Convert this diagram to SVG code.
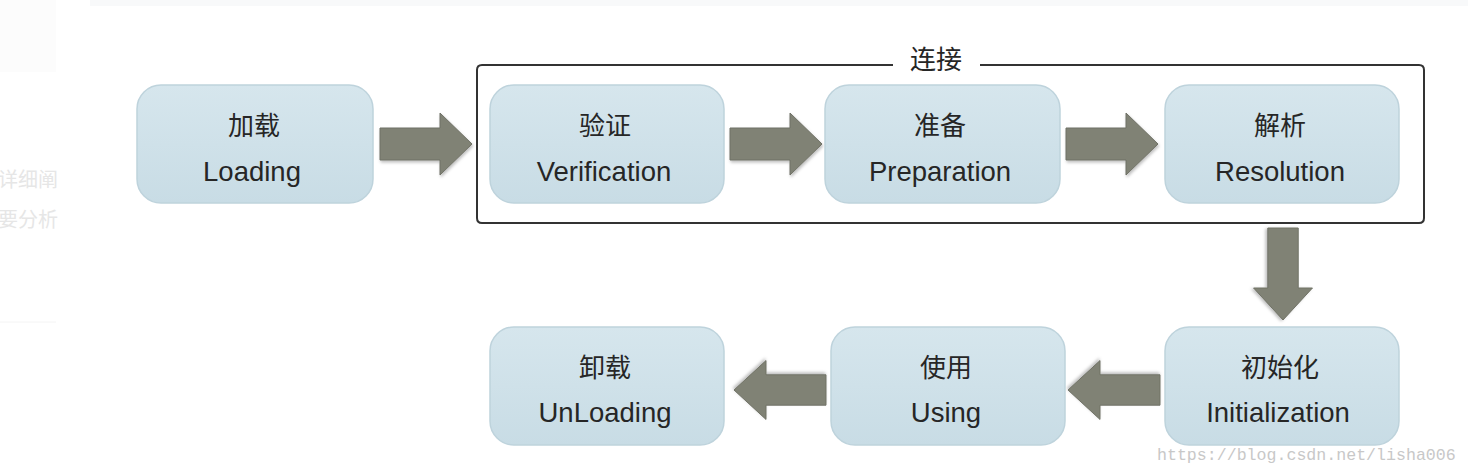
<svg xmlns="http://www.w3.org/2000/svg" width="1468" height="474" viewBox="0 0 1468 474">
<defs>
<linearGradient id="ng" x1="0" y1="0" x2="0" y2="1">
<stop offset="0" stop-color="#d6e6ed"/>
<stop offset="1" stop-color="#c8dce5"/>
</linearGradient>
<filter id="sh" x="-10%" y="-10%" width="130%" height="130%">
<feDropShadow dx="1" dy="2" stdDeviation="1.5" flood-color="#000" flood-opacity="0.25"/>
</filter>
<path id="ar" d="M0,-16 L60,-16 L60,-31 L92,0 L60,31 L60,16 L0,16 Z"/>
</defs>
<style>
.node rect{fill:url(#ng);stroke:#bed3dc;stroke-width:1.5}
.zh{font-family:"Noto Sans CJK SC","Noto Sans",sans-serif;font-size:26px;fill:#262626;text-anchor:middle}
.en{font-family:"Liberation Sans",Arial,sans-serif;font-size:27.5px;fill:#262626;text-anchor:middle}
.arrow use{fill:#808274;stroke:#6f7166;stroke-width:1;filter:url(#sh)}
.bg{font-family:"Noto Sans CJK SC",sans-serif;font-size:20px;fill:#e6e6e6}
.wm{font-family:"Liberation Mono","DejaVu Sans Mono",monospace;font-size:16.6px;fill:#c8c8c8}
</style>
<rect width="1468" height="474" fill="#ffffff"/>
<rect x="0" y="0" width="56" height="72" fill="#fcfcfc"/>
<rect x="90" y="0" width="1378" height="6" fill="#f8f9fa"/>
<text class="bg" x="-2" y="187">详细阐</text>
<text class="bg" x="-2" y="227">要分析</text>
<line x1="0" y1="322" x2="56" y2="322" stroke="#f4f4f4" stroke-width="1"/>

<g id="link-box">
<path d="M893,65 L482,65 Q477,65 477,70 L477,218 Q477,223 482,223 L1419,223 Q1424,223 1424,218 L1424,70 Q1424,65 1419,65 L980,65" fill="none" stroke="#333" stroke-width="2"/>
<text class="zh" x="936" y="69">连接</text>
</g>

<g id="connectors" class="arrow">
<use href="#ar" transform="translate(380,144)"/>
<use href="#ar" transform="translate(730,144)"/>
<use href="#ar" transform="translate(1066,144)"/>
<use href="#ar" transform="translate(1283,228) rotate(90) scale(1,0.95)"/>
<use href="#ar" transform="translate(1160,390) rotate(180) scale(1,0.95)"/>
<use href="#ar" transform="translate(826,390) rotate(180) scale(1,0.95)"/>
</g>

<g id="n-loading" class="node"><rect x="137" y="85" width="236" height="118" rx="24"/><text class="zh" x="254" y="135">加载</text><text class="en" x="252" y="181">Loading</text></g>
<g id="n-verification" class="node"><rect x="490" y="85" width="234" height="118" rx="24"/><text class="zh" x="605" y="135">验证</text><text class="en" x="604" y="181">Verification</text></g>
<g id="n-preparation" class="node"><rect x="825" y="85" width="235" height="118" rx="24"/><text class="zh" x="940" y="135">准备</text><text class="en" x="940" y="181">Preparation</text></g>
<g id="n-resolution" class="node"><rect x="1165" y="85" width="234" height="118" rx="24"/><text class="zh" x="1280" y="135">解析</text><text class="en" x="1280" y="181">Resolution</text></g>
<g id="n-initialization" class="node"><rect x="1165" y="327" width="234" height="118" rx="24"/><text class="zh" x="1280" y="377">初始化</text><text class="en" x="1278" y="422">Initialization</text></g>
<g id="n-using" class="node"><rect x="831" y="327" width="234" height="118" rx="24"/><text class="zh" x="946" y="377">使用</text><text class="en" x="946" y="422">Using</text></g>
<g id="n-unloading" class="node"><rect x="490" y="327" width="234" height="118" rx="24"/><text class="zh" x="605" y="377">卸载</text><text class="en" x="605" y="422">UnLoading</text></g>

<text class="wm" x="1157" y="460">https://blog.csdn.net/lisha006</text>
</svg>
